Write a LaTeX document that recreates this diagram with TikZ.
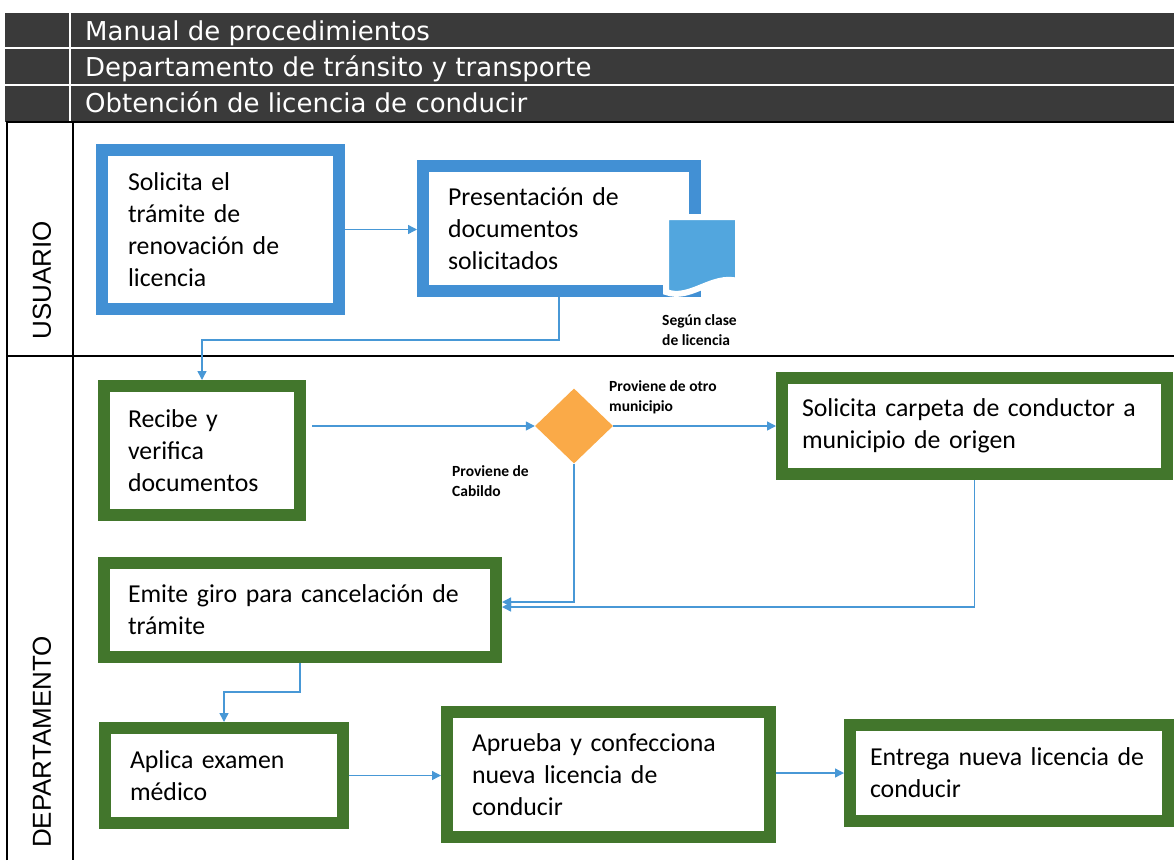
\documentclass[tikz,border=0pt]{standalone}
\usepackage{fontspec}
\setmainfont{Carlito}
\newfontfamily\headfont{DejaVu Sans}
\newfontfamily\lanefont{Liberation Sans}
\usetikzlibrary{shapes.geometric,arrows.meta}
\definecolor{hdrgray}{RGB}{58,58,58}
\definecolor{usrblue}{RGB}{66,144,212}
\definecolor{depgreen}{RGB}{66,118,44}
\definecolor{flowblue}{RGB}{72,152,214}
\definecolor{docblue}{RGB}{82,166,222}
\definecolor{decorange}{RGB}{250,170,72}
\begin{document}
\begin{tikzpicture}[x=1pt,y=-1pt,
   every node/.style={inner sep=0pt},
   box/.style={draw,line width=12pt,fill=white,align=left,outer sep=6pt,inner ysep=0pt,font={\fontsize{25.8}{32}\selectfont}},
   usr/.style={box,draw=usrblue},
   dep/.style={box,draw=depgreen},
   flow/.style={-{Triangle[length=9pt,width=9pt]},line width=1.4pt,draw=flowblue},
   note/.style={font={\bfseries\fontsize{15.5}{20}\selectfont},align=left},
   head/.style={text=white,anchor=base west,font={\headfont\fontsize{26}{30}\selectfont}},
   lane/.style={rotate=90,font={\lanefont\fontsize{26}{30}\selectfont}}]
\useasboundingbox (0,0) rectangle (1174,860);
% header
\fill[hdrgray] (5,13) rectangle (1174,122);
\draw[white,line width=1.5pt] (5,48) -- (1174,48) (5,85) -- (1174,85) (70,13) -- (70,122);
\node[head] (manual) at (85,40) {Manual de procedimientos};
\node[head] (transito) at (85,76) {Departamento de tránsito y transporte};
\node[head] (licencia) at (85,112) {Obtención de licencia de conducir};
% lanes
\draw[line width=1.6pt] (7,860) -- (7,122) -- (1174,122) (73,122) -- (73,860) (7,356) -- (1174,356);
\node[lane] (usuario) at (42,280) {USUARIO};
\node[lane] (depto) at (42,742) {DEPARTAMENTO};
% usuario
\node[usr,text width=185pt,inner xsep=26pt,minimum height=159pt] (solicita) at (220.5,229.5) {Solicita el\\trámite de\\renovación de\\licencia};
\node[usr,text width=222pt,inner xsep=25pt,minimum height=125pt] (presenta) at (559,228.5) {Presentación de\\documentos\\solicitados};
\filldraw[fill=docblue,draw=white,line width=6pt] (666,217) -- (738,217) -- (738,281) .. controls (712,274) and (690,301) .. (666,292) -- cycle;
\node[note,anchor=west] (clase) at (662,330) {Según clase\\de licencia};
% departamento
\node[dep,text width=148pt,inner xsep=24pt,minimum height=129pt] (recibe) at (202,450.5) {Recibe y\\verifica\\documentos};
\node[diamond,fill=decorange,minimum width=78pt,minimum height=75pt] (proviene) at (574,426) {};
\node[note,anchor=west] (otro) at (609,397) {Proviene de otro\\municipio};
\node[note,anchor=west] (cabildo) at (452,481) {Proviene de\\Cabildo};
\node[dep,text width=345pt,inner xsep=20pt,minimum height=96pt] (carpeta) at (974.5,426) {Solicita carpeta de conductor a\\municipio de origen};
\node[dep,text width=344pt,inner xsep=24pt,minimum height=94pt] (giro) at (300,610) {Emite giro para cancelación de\\trámite};
\node[dep,text width=188pt,inner xsep=25pt,minimum height=95pt] (examen) at (224,775.5) {Aplica examen\\médico};
\node[dep,text width=273pt,inner xsep=25pt,minimum height=125pt] (aprueba) at (608.5,774.5) {Aprueba y confecciona\\nueva licencia de\\conducir};
\node[dep,text width=278pt,inner xsep=20pt,minimum height=96pt] (entrega) at (1009,773) {Entrega nueva licencia de\\conducir};
% connectors
\draw[flow] (solicita.east) -- (solicita.east -| presenta.west);
\draw[flow] (presenta.south) -- ++(0,43) -| (recibe.north);
\draw[flow,shorten <=6pt] (recibe.east |- proviene) -- (proviene.west);
\draw[flow] (proviene.east) -- (proviene.east -| carpeta.west);
\draw[flow] (proviene.south) |- ([yshift=8pt]giro.east);
\draw[flow] (carpeta.south) |- ([yshift=3pt]giro.east);
\draw[flow] (giro.south) -- ++(0,29) -| (examen.north);
\draw[flow] (examen.east) -- (examen.east -| aprueba.west);
\draw[flow] (aprueba.east |- entrega) -- (entrega.west);
\end{tikzpicture}
\end{document}
